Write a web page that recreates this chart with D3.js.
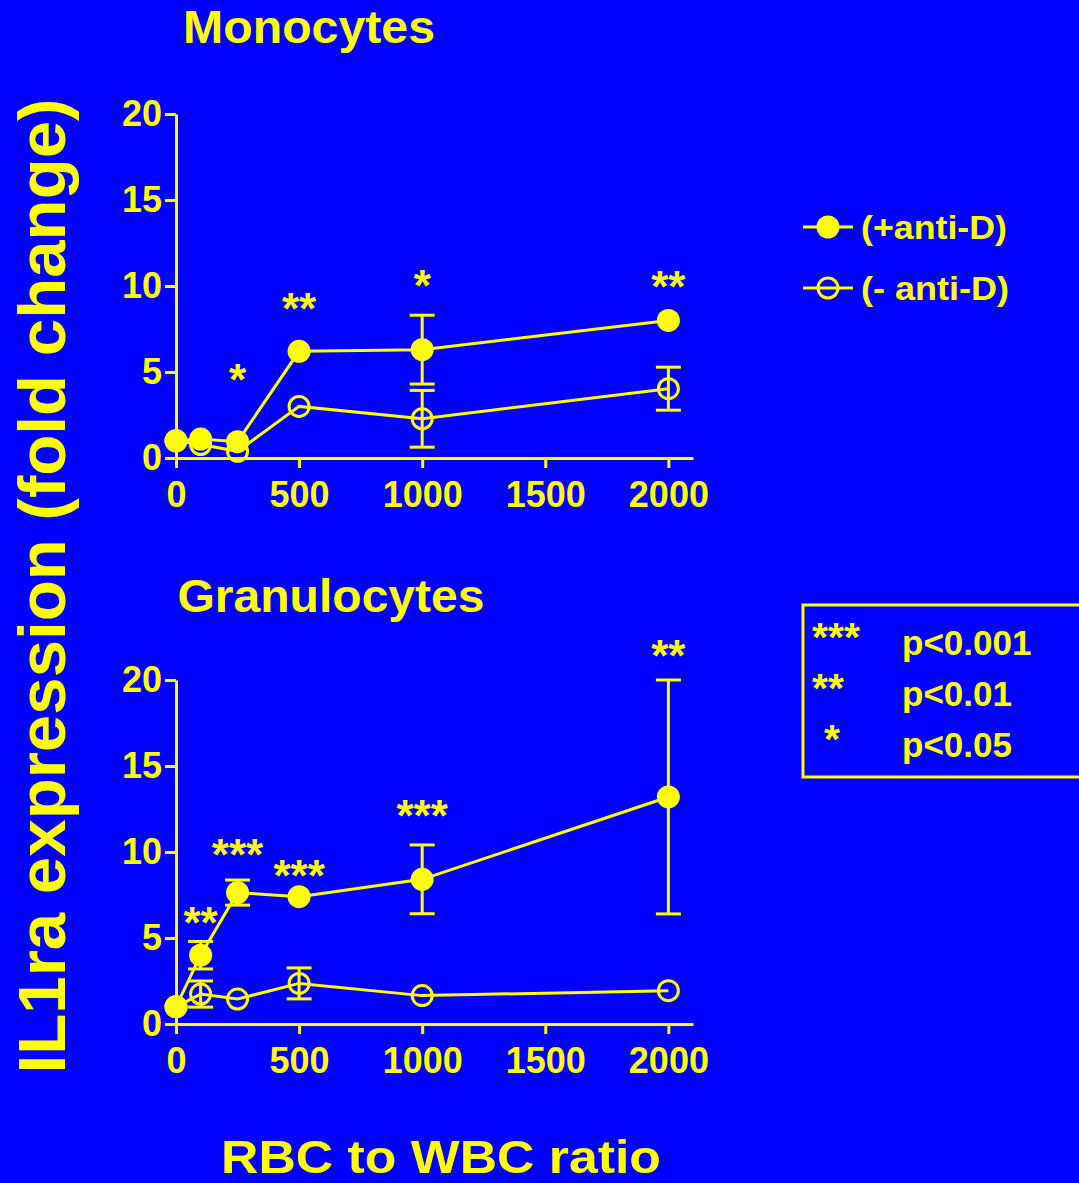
<!DOCTYPE html>
<html>
<head>
<meta charset="utf-8">
<script src="https://cdn.jsdelivr.net/npm/d3@7"></script>
<style>
  html, body { margin: 0; padding: 0; background: #0000ff; }
  svg { display: block; }
  text { font-family: "Liberation Sans", Arial, Helvetica, sans-serif; font-weight: bold; fill: #ffff00; }
</style>
</head>
<body>
<svg id="chart" width="1079" height="1183"></svg>
<script>
// RBC:WBC ratios tested
const ratios = [0, 100, 250, 500, 1000, 2000];

// Monocytes: mean fold change and SEM
const monoWithAntiD = [1.0, 1.1, 0.95, 6.2, 6.3, 8.0];
const monoWithAntiDErr = [0, 0, 0, 0, 2.0, 0];
const monoNoAntiD = [1.0, 0.78, 0.39, 3.0, 2.28, 4.03];
const monoNoAntiDErr = [0, 0, 0, 0, 1.65, 1.25];

// Granulocytes: mean fold change and SEM
const granWithAntiD = [1.0, 4.0, 7.64, 7.4, 8.41, 13.2];
const granWithAntiDErr = [0, 0.8, 0.73, 0, 2.0, 6.8];
const granNoAntiD = [1.0, 1.74, 1.45, 2.36, 1.65, 1.94];
const granNoAntiDErr = [0, 0.76, 0, 0.9, 0, 0];

// Significance marks: ratio, height (fold change), label
const monoSigRatio = [250, 500, 1000, 2000];
const monoSigLevel = [5.1, 9.25, 10.6, 10.5];
const monoSigText = ["*", "**", "*", "**"];
const granSigRatio = [100, 250, 500, 1000, 2000];
const granSigLevel = [6.45, 10.4, 9.2, 12.7, 22.0];
const granSigText = ["**", "***", "***", "***", "**"];

const xTicks = [0, 500, 1000, 1500, 2000];
const yTicks = [0, 5, 10, 15, 20];

const seriesNames = ["(+anti-D)", "(- anti-D)"];
const sigKeys = ["***", "**", "*"];
const sigLabels = ["p<0.001", "p<0.01", "p<0.05"];

const YELLOW = "#ffff00";
const BLUE = "#0000ff";
const R = 11.5;

const svg = d3.select("#chart");
svg.append("rect").attr("width", 1079).attr("height", 1183).attr("fill", BLUE);

const x = d3.scaleLinear().domain([0, 2100]).range([176, 693]);

function panel(title, titleX, titleY, titleLen, top, bottom, plus, plusErr, minus, minusErr, sigR, sigV, sigT) {
  const y = d3.scaleLinear().domain([0, 20]).range([bottom, top]);
  const g = svg.append("g");

  g.append("text").attr("x", titleX).attr("y", titleY).attr("text-anchor", "middle")
    .attr("textLength", titleLen).attr("lengthAdjust", "spacingAndGlyphs")
    .style("font-size", "47px").text(title);

  const yAxis = g.append("g").attr("transform", `translate(${x(0)},0)`)
    .call(d3.axisLeft(y).tickValues(yTicks).tickSize(11).tickSizeOuter(0).tickPadding(3));
  const xAxis = g.append("g").attr("transform", `translate(0,${bottom})`)
    .call(d3.axisBottom(x).tickValues(xTicks).tickSize(10).tickSizeOuter(0).tickPadding(13).tickFormat(d3.format("d")));
  [yAxis, xAxis].forEach(a => {
    a.selectAll("path, line").attr("stroke", YELLOW).attr("stroke-width", 3);
    a.selectAll("text").attr("fill", YELLOW).style("font-size", "36px")
      .style("font-family", '"Liberation Sans", Arial, sans-serif').style("font-weight", "bold");
  });

  const line = d3.line().x((d, i) => x(ratios[i])).y(d => y(d));

  [[minus, minusErr, false], [plus, plusErr, true]].forEach(([vals, errs, filled]) => {
    g.append("path").datum(vals).attr("d", line)
      .attr("fill", "none").attr("stroke", YELLOW).attr("stroke-width", 3);

    const eb = g.append("g");
    vals.forEach((v, i) => {
      const e = errs[i];
      if (!e) return;
      const cx = x(ratios[i]);
      eb.append("line").attr("x1", cx).attr("x2", cx).attr("y1", y(v - e)).attr("y2", y(v + e));
      [v - e, v + e].forEach(b => eb.append("line")
        .attr("x1", cx - 12.5).attr("x2", cx + 12.5).attr("y1", y(b)).attr("y2", y(b)));
    });
    eb.selectAll("line").attr("stroke", YELLOW).attr("stroke-width", 3);

    g.append("g").selectAll("circle").data(vals).join("circle")
      .attr("cx", (d, i) => x(ratios[i])).attr("cy", d => y(d))
      .attr("r", filled ? R : R - 1.5)
      .attr("fill", filled ? YELLOW : "none")
      .attr("stroke", YELLOW).attr("stroke-width", filled ? 0 : 3);
  });

  g.append("g").selectAll("text").data(sigR).join("text")
    .attr("x", d => x(d)).attr("y", (d, i) => y(sigV[i]) + 25)
    .attr("text-anchor", "middle").style("font-size", "44px")
    .text((d, i) => sigT[i]);
}

panel("Monocytes", 309, 43, 252, 114, 458,
  monoWithAntiD, monoWithAntiDErr, monoNoAntiD, monoNoAntiDErr, monoSigRatio, monoSigLevel, monoSigText);
panel("Granulocytes", 331, 612, 307, 680, 1024,
  granWithAntiD, granWithAntiDErr, granNoAntiD, granNoAntiDErr, granSigRatio, granSigLevel, granSigText);

// Shared axis titles
svg.append("text").attr("transform", "translate(65,586) rotate(-90)")
  .attr("text-anchor", "middle").attr("textLength", 975).attr("lengthAdjust", "spacingAndGlyphs")
  .style("font-size", "67px").text("IL1ra expression (fold change)");
svg.append("text").attr("x", 441).attr("y", 1173).attr("text-anchor", "middle")
  .attr("textLength", 440).attr("lengthAdjust", "spacingAndGlyphs")
  .style("font-size", "47px").text("RBC to WBC ratio");

// Series legend
const leg = svg.append("g");
const legLen = [146, 148];
seriesNames.forEach((name, i) => {
  const ly = 227 + i * 61;
  leg.append("line").attr("x1", 803).attr("x2", 853).attr("y1", ly).attr("y2", ly)
    .attr("stroke", YELLOW).attr("stroke-width", 3);
  leg.append("circle").attr("cx", 828).attr("cy", ly).attr("r", i === 0 ? R : R - 1.5)
    .attr("fill", i === 0 ? YELLOW : "none").attr("stroke", YELLOW).attr("stroke-width", i === 0 ? 0 : 3);
  leg.append("text").attr("x", 861).attr("y", ly + 12)
    .attr("textLength", legLen[i]).attr("lengthAdjust", "spacingAndGlyphs")
    .style("font-size", "34px").text(name);
});

// Significance key
const key = svg.append("g");
key.append("rect").attr("x", 803).attr("y", 605).attr("width", 300).attr("height", 172)
  .attr("fill", "none").attr("stroke", YELLOW).attr("stroke-width", 3);
const keyStarX = [812, 812, 824];
sigKeys.forEach((s, i) => {
  const by = 655 + i * 51;
  key.append("text").attr("x", keyStarX[i]).attr("y", by - 4).style("font-size", "41px").text(s);
  key.append("text").attr("x", 902).attr("y", by).style("font-size", "35px").text(sigLabels[i]);
});
</script>
</body>
</html>
